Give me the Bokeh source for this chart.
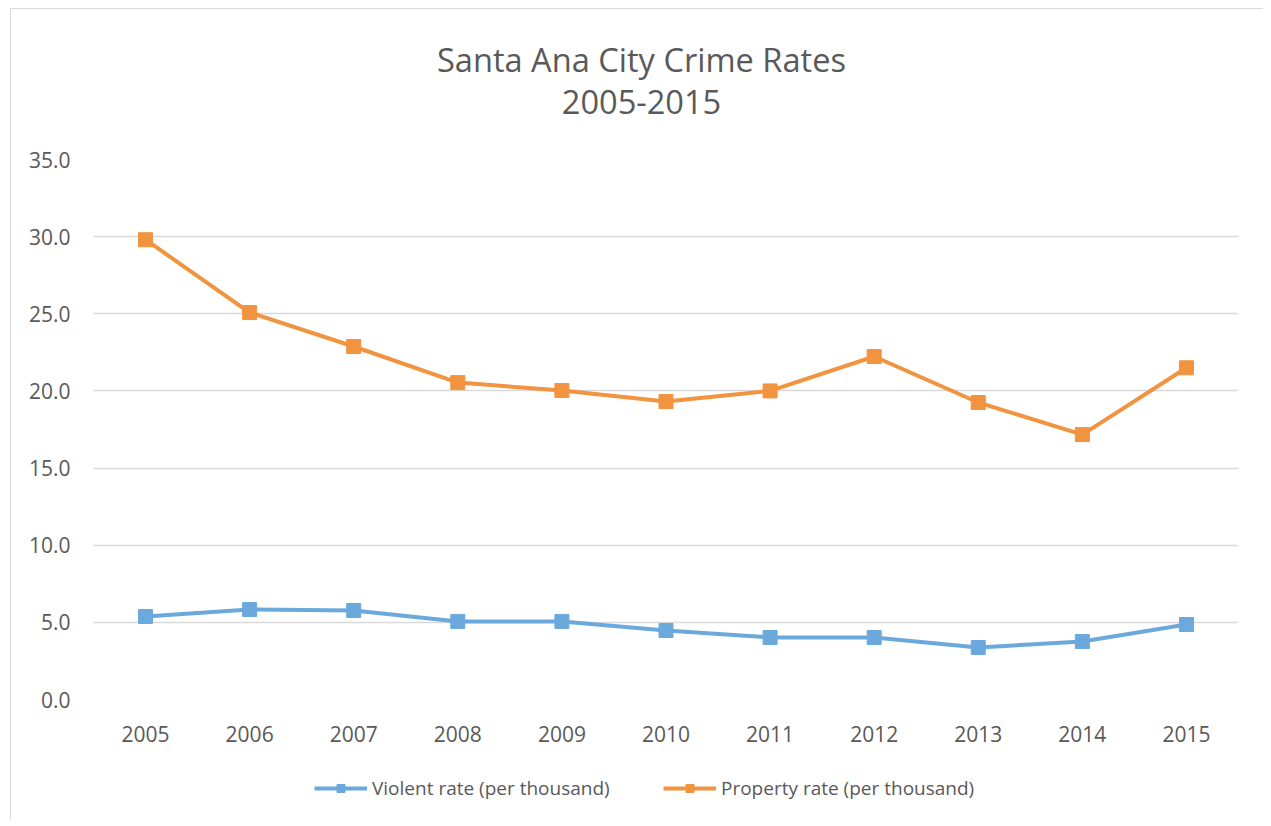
from bokeh.plotting import figure
from bokeh.layouts import column
from bokeh.models import (Range1d, FactorRange, FixedTicker, PrintfTickFormatter,
                          Legend, LegendItem, Label)
from bokeh.embed import file_html
from bokeh.resources import INLINE

years = ["2005", "2006", "2007", "2008", "2009", "2010", "2011", "2012", "2013", "2014", "2015"]
violent = [5.38, 5.83, 5.77, 5.06, 5.06, 4.47, 4.02, 4.02, 3.37, 3.76, 4.86]
property_ = [29.8, 25.08, 22.88, 20.54, 20.03, 19.31, 20.0, 22.23, 19.25, 17.17, 21.5]
y_ticks = [0, 5, 10, 15, 20, 25, 30, 35]
title_lines = ["Santa Ana City Crime Rates", "2005-2015"]
series_names = ["Violent rate (per thousand)", "Property rate (per thousand)"]

BLUE = "#6BA9DC"
ORANGE = "#F2933F"
TEXT = "#595959"
GRID = "#D9D9D9"
FONT = "Open Sans"
W = 1252


def blank(height, **kw):
    f = figure(width=W, height=height, output_backend="svg", toolbar_location=None,
               min_border=0, min_border_left=0, min_border_right=0,
               min_border_top=0, min_border_bottom=0, **kw)
    f.axis.visible = False
    f.grid.visible = False
    f.outline_line_color = None
    f.background_fill_color = "white"
    f.border_fill_color = "white"
    return f


# ---- title strip
top = blank(137, x_axis_type=None, y_axis_type=None)
for txt, yb in zip(title_lines, [87, 45]):
    top.add_layout(Label(x=548, y=yb, x_units="screen", y_units="screen", text=txt,
                         text_align="center", text_baseline="alphabetic",
                         text_font=FONT, text_font_size="32.6px", text_color=TEXT))

# ---- main chart
p = figure(width=W, height=613, x_range=FactorRange(*years, range_padding=0),
           y_range=Range1d(0, 35), output_backend="svg", toolbar_location=None,
           min_border_left=82, min_border_top=13, min_border_right=25,
           min_border_bottom=60)
p.outline_line_color = None
p.background_fill_color = "white"
p.border_fill_color = "white"
p.xgrid.grid_line_color = None
p.ygrid.grid_line_color = GRID
p.ygrid.grid_line_width = 1.5
p.yaxis.ticker = FixedTicker(ticks=y_ticks)
p.yaxis.formatter = PrintfTickFormatter(format="%.1f")
for ax in (p.xaxis[0], p.yaxis[0]):
    ax.axis_line_color = None
    ax.major_tick_line_color = None
    ax.minor_tick_line_color = None
    ax.major_label_text_font = FONT
    ax.major_label_text_font_size = "21px"
    ax.major_label_text_color = TEXT
p.xaxis.major_label_standoff = 20
p.yaxis.major_label_standoff = 17


def series(fig, ys, color):
    ln = fig.line(years, ys, line_color=color, line_width=4)
    mk = fig.scatter(years, ys, marker="square", size=14, fill_color=color, line_color=color)
    return ln, mk


series(p, violent, BLUE)
series(p, property_, ORANGE)

# ---- legend strip: same series drawn outside its visible y range, only the key shows
leg = blank(60, x_range=FactorRange(*years, range_padding=0), y_range=Range1d(40, 41))
k1 = series(leg, violent, BLUE)
k2 = series(leg, property_, ORANGE)
legend = Legend(items=[LegendItem(label=series_names[0], renderers=list(k1)),
                       LegendItem(label=series_names[1], renderers=list(k2))],
                orientation="horizontal", location=(221, 18),
                glyph_width=53, glyph_height=20, label_standoff=5, spacing=5,
                label_width=286,
                padding=0, margin=0, border_line_color=None, background_fill_alpha=0,
                label_text_font=FONT, label_text_font_size="19px", label_text_color=TEXT)
leg.add_layout(legend, "center")

layout = column(top, p, leg, spacing=0, margin=(8, 0, 0, 10),
                styles={"border-left": "1px solid #D9D9D9", "border-top": "1px solid #D9D9D9"})
open("out.html", "w").write(file_html(layout, INLINE))
